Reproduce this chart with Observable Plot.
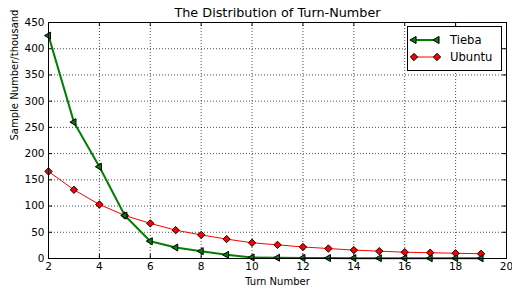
<!DOCTYPE html>
<html><head><meta charset="utf-8">
<script src="https://cdn.jsdelivr.net/npm/d3@7"></script>
<script src="https://cdn.jsdelivr.net/npm/@observablehq/plot@0.6"></script>
<style>
body{margin:0;background:#fff;font-family:"DejaVu Sans",sans-serif}
#wrap{position:relative;width:512px;height:289px}
#legend{position:absolute;left:407px;top:26px;width:93px;height:43px;border:1px solid #000;background:#fff}
#legend svg{position:absolute;left:0;top:0}
</style></head><body><div id="wrap"></div>
<script>
const turns = [2,3,4,5,6,7,8,9,10,11,12,13,14,15,16,17,18,19];
const tieba = [425,260,175,82,33,21,14,7,2,1.5,1,0.8,0.7,0.6,0.5,0.4,0.4,0.3];
const ubuntu = [166,131,103,82,67,54,45,37,30,26,22,19,16,14,12,11,10,9];
const xTicks = [2,4,6,8,10,12,14,16,18,20];
const yTicks = [0,50,100,150,200,250,300,350,400,450];
const seriesNames = ["Tieba","Ubuntu"];
const titleText = "The Distribution of Turn-Number";
const xLabel = "Turn Number";
const yLabel = "Sample Number/thousand";

const tData = turns.map((t,i)=>({t, v: tieba[i]}));
const uData = turns.map((t,i)=>({t, v: ubuntu[i]}));
const GREEN = "#008000", RED = "#ff0000";

const W = 512, H = 289, mL = 48, mR = 6, mT = 22, mB = 31;
const fw = W - mL - mR, fh = H - mT - mB;

const chart = Plot.plot({
  width: W, height: H,
  marginLeft: mL, marginRight: mR, marginTop: mT, marginBottom: mB,
  style: {fontFamily: "DejaVu Sans, sans-serif", fontSize: "10.5px", color: "#000", background: "#fff"},
  x: {domain: [2, 20]},
  y: {domain: [0, 450]},
  marks: [
    Plot.gridX(xTicks, {stroke: "#000", strokeOpacity: 1, strokeWidth: 0.7, strokeDasharray: "1,2"}),
    Plot.gridY(yTicks, {stroke: "#000", strokeOpacity: 1, strokeWidth: 0.7, strokeDasharray: "1,2"}),
    Plot.tickX(xTicks, {x: d => d, stroke: "#000", insetTop: fh - 4}),
    Plot.tickX(xTicks, {x: d => d, stroke: "#000", insetBottom: fh - 4}),
    Plot.tickY(yTicks, {y: d => d, stroke: "#000", insetRight: fw - 4}),
    Plot.tickY(yTicks, {y: d => d, stroke: "#000", insetLeft: fw - 4}),
    Plot.axisX(xTicks, {tickSize: 0, tickPadding: 4, label: null, fontSize: 10.5}),
    Plot.axisY(yTicks, {tickSize: 0, tickPadding: 4, label: null, fontSize: 10.5}),
    Plot.line(uData, {x: "t", y: "v", stroke: RED, strokeWidth: 1}),
    Plot.line(tData, {x: "t", y: "v", stroke: GREEN, strokeWidth: 2}),
    Plot.dot(uData, {x: "t", y: "v", symbol: "diamond2", r: 3.3, fill: RED, stroke: "#000", strokeWidth: 1}),
    Plot.dot(tData, {x: "t", y: "v", symbol: "triangle", rotate: -90, r: 2.6, fill: GREEN, stroke: "#000", strokeWidth: 1}),
    Plot.frame({stroke: "#000", strokeWidth: 1}),
    Plot.text([titleText], {frameAnchor: "top", dy: -10, fontSize: 12.8, lineAnchor: "middle"}),
    Plot.text([xLabel], {frameAnchor: "bottom", dy: 23, fontSize: 10, lineAnchor: "middle"}),
    Plot.text([yLabel], {frameAnchor: "left", dx: -34, rotate: -90, fontSize: 10, lineAnchor: "middle"})
  ]
});
document.getElementById("wrap").appendChild(chart);

// legend
const lg = document.createElement("div");
lg.id = "legend";
const sw = d3.create("svg").attr("width", 93).attr("height", 43);
const rows = [{name: seriesNames[0], color: GREEN, sym: d3.symbolTriangle, rot: -90, w: 2, size: 22},
              {name: seriesNames[1], color: RED, sym: d3.symbolDiamond2, rot: 0, w: 1, size: 34}];
rows.forEach((r, i) => {
  const y = 13 + i * 17;
  sw.append("line").attr("x1", 6).attr("x2", 29).attr("y1", y).attr("y2", y).attr("stroke", r.color).attr("stroke-width", r.w);
  [6, 29].forEach(x => sw.append("path").attr("d", d3.symbol(r.sym, r.size)()).attr("transform", `translate(${x},${y}) rotate(${r.rot})`).attr("fill", r.color).attr("stroke", "#000"));
  sw.append("text").attr("x", 42).attr("y", y).attr("dy", "0.35em").attr("font-size", 11.6).attr("font-family", "DejaVu Sans, sans-serif").text(r.name);
});
lg.appendChild(sw.node());
document.getElementById("wrap").appendChild(lg);
</script>
</body></html>
